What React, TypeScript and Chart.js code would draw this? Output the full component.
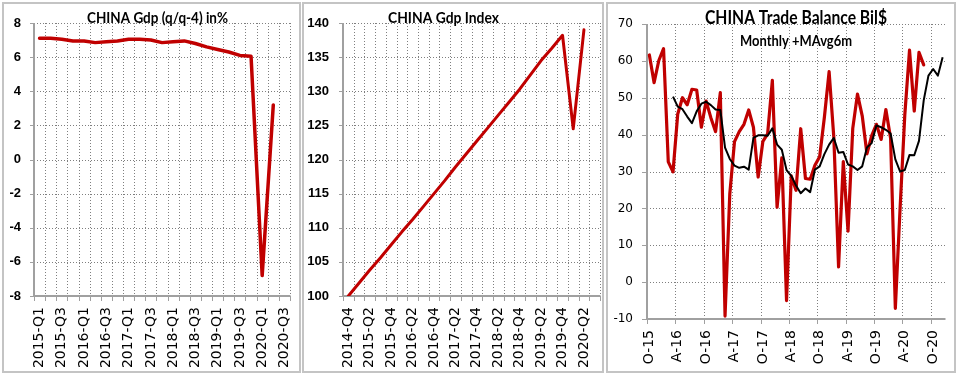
import React, { useLayoutEffect, useRef, useState } from "react";
import { Chart, registerables } from "chart.js";

Chart.register(...registerables);

// ---------------- DATA ----------------
const GDP_QUARTERS = [
  "2015-Q1", "2015-Q2", "2015-Q3", "2015-Q4",
  "2016-Q1", "2016-Q2", "2016-Q3", "2016-Q4",
  "2017-Q1", "2017-Q2", "2017-Q3", "2017-Q4",
  "2018-Q1", "2018-Q2", "2018-Q3", "2018-Q4",
  "2019-Q1", "2019-Q2", "2019-Q3", "2019-Q4",
  "2020-Q1", "2020-Q2", "2020-Q3",
];
const GDP_YOY = [
  7.1, 7.1, 7.05, 6.95, 6.95, 6.85, 6.9, 6.95, 7.05, 7.05, 7.0, 6.85,
  6.9, 6.95, 6.8, 6.6, 6.45, 6.3, 6.1, 6.05, -6.8, 3.2, null,
];

const INDEX_QUARTERS = [
  "2014-Q4",
  "2015-Q1", "2015-Q2", "2015-Q3", "2015-Q4",
  "2016-Q1", "2016-Q2", "2016-Q3", "2016-Q4",
  "2017-Q1", "2017-Q2", "2017-Q3", "2017-Q4",
  "2018-Q1", "2018-Q2", "2018-Q3", "2018-Q4",
  "2019-Q1", "2019-Q2", "2019-Q3", "2019-Q4",
  "2020-Q1", "2020-Q2", "2020-Q3",
];
const GDP_INDEX = [
  100, 101.9, 103.8, 105.6, 107.5, 109.4, 111.2, 113.1, 115.0, 116.9,
  118.9, 120.8, 122.7, 124.6, 126.5, 128.4, 130.3, 132.4, 134.5, 136.3,
  138.2, 124.5, 139.0, null,
];

const MONTHS = [
  "Oct-15", "Nov-15", "Dec-15",
  "Jan-16", "Feb-16", "Mar-16", "Apr-16", "May-16", "Jun-16", "Jul-16", "Aug-16", "Sep-16", "Oct-16", "Nov-16", "Dec-16",
  "Jan-17", "Feb-17", "Mar-17", "Apr-17", "May-17", "Jun-17", "Jul-17", "Aug-17", "Sep-17", "Oct-17", "Nov-17", "Dec-17",
  "Jan-18", "Feb-18", "Mar-18", "Apr-18", "May-18", "Jun-18", "Jul-18", "Aug-18", "Sep-18", "Oct-18", "Nov-18", "Dec-18",
  "Jan-19", "Feb-19", "Mar-19", "Apr-19", "May-19", "Jun-19", "Jul-19", "Aug-19", "Sep-19", "Oct-19", "Nov-19", "Dec-19",
  "Jan-20", "Feb-20", "Mar-20", "Apr-20", "May-20", "Jun-20", "Jul-20", "Aug-20", "Sep-20", "Oct-20", "Nov-20", "Dec-20",
];
const TRADE_BALANCE = [
  61.6, 54.1, 60.1,
  63.3, 32.6, 29.9, 45.6, 50.0, 48.1, 52.3, 52.1, 42.0, 49.1, 44.6, 40.8,
  51.4, -9.2, 23.9, 38.1, 40.8, 42.8, 46.7, 42.0, 28.5, 38.2, 40.2, 54.7,
  20.3, 33.7, -5.0, 28.8, 24.9, 41.6, 28.1, 27.9, 31.7, 34.0, 44.7, 57.1,
  39.2, 4.1, 32.7, 13.8, 41.7, 51.0, 45.1, 34.8, 39.7, 42.8, 38.7, 46.8,
  39.0, -7.1, 19.9, 45.3, 62.9, 46.4, 62.3, 58.9, null, null, null, null,
];
const TRADE_MA6 = [
  null, null, null,
  null, null, 50.3, 47.6, 46.9, 44.9, 43.1, 46.3, 48.4, 48.9, 48.0, 46.8,
  46.7, 36.5, 33.4, 31.6, 31.0, 31.3, 30.5, 39.1, 39.8, 39.8, 39.7, 41.7,
  37.3, 35.9, 30.4, 28.8, 26.2, 24.1, 25.4, 24.4, 30.5, 31.4, 34.7, 37.3,
  39.1, 35.1, 35.3, 31.9, 31.4, 30.4, 31.4, 36.5, 37.7, 42.5, 42.0, 41.3,
  40.3, 33.3, 30.0, 30.4, 34.5, 34.4, 38.3, 49.3, 56.0, 57.8, 56.0, 61.0,
];

const TITLE_1 = "CHINA Gdp (q/q-4) in%";
const TITLE_2 = "CHINA Gdp Index";
const TITLE_3 = "CHINA Trade Balance Bil$";
const SUBTITLE_3 = "Monthly +MAvg6m";

// ---------------- STYLE ----------------
const RED = "#c00000";
const GRID = "#7f7f7f";
const AXIS = "#a0a0a0";
const TITLE_FONT = '"Lato", "Liberation Sans", sans-serif';

type Area = { left: number; top: number; right: number; bottom: number };
type Spec = {
  area: Area;
  labels: string[];
  datasets: any[];
  yMin: number;
  yMax: number;
  yStep: number;
  yFont: any;
  yPad: number;
  yTick: number;
  gridEvery: number;
  labelEvery: number;
  endLine: boolean;
  fmt: (s: string) => string;
  texts: any[];
};
type GridGeom = { L: number; R: number; T: number; B: number; xs: number[]; ys: number[] };

function computeGrid(chart: any, s: Spec): GridGeom {
  const ca = chart.chartArea;
  const x = chart.scales["x"];
  const y = chart.scales["y"];
  const ys: number[] = [];
  const yt = y.ticks;
  for (let i = 0; i < yt.length; i++) ys.push(Math.round(y.getPixelForValue(yt[i].value)) + 0.5);
  const n = s.labels.length;
  const p0 = x.getPixelForValue(0);
  const p1 = x.getPixelForValue(1);
  const half = (p1 - p0) / 2;
  const xs: number[] = [];
  for (let i = 0; i <= n; i++) {
    const show = i === n ? s.endLine : i % s.gridEvery === 0;
    if (show) xs.push(Math.round(p0 + (p1 - p0) * i - half) + 0.5);
  }
  return {
    L: Math.round(ca.left),
    R: Math.round(ca.right),
    T: Math.round(ca.top),
    B: Math.round(ca.bottom),
    xs,
    ys,
  };
}

const textPlugin = {
  id: "panelText",
  afterDraw(chart: any, _args: any, opts: any) {
    const ctx = chart.ctx;
    const items = (opts && opts.items) || [];
    for (let i = 0; i < items.length; i++) {
      const t = items[i];
      ctx.save();
      ctx.font = t.font;
      ctx.fillStyle = "#000";
      ctx.textAlign = "center";
      ctx.textBaseline = "alphabetic";
      ctx.fillText(t.text, t.x, t.y, t.maxWidth);
      ctx.restore();
    }
  },
};

function makeConfig(s: Spec, w: number, h: number) {
  return {
    type: "line",
    data: { labels: s.labels, datasets: s.datasets },
    plugins: [textPlugin],
    options: {
      animation: false,
      responsive: false,
      maintainAspectRatio: false,
      devicePixelRatio: 1,
      events: [],
      layout: {
        padding: { left: 0, top: s.area.top, right: w - s.area.right, bottom: 0 },
      },
      plugins: {
        legend: { display: false },
        tooltip: { enabled: false },
        title: { display: false },
        panelText: { items: s.texts },
      },
      elements: { point: { radius: 0 } },
      scales: {
        x: {
          type: "category",
          offset: true,
          grid: { display: false, drawTicks: true, tickLength: 5, offset: true },
          border: { display: false },
          ticks: {
            autoSkip: false,
            minRotation: 90,
            maxRotation: 90,
            padding: 6,
            color: "#000",
            font: { family: '"DejaVu Sans", sans-serif', size: 14 },
            callback: function (this: any, value: any, index: number) {
              return index % s.labelEvery === 0 ? s.fmt(this.getLabelForValue(value)) : "";
            },
          },
          afterFit: (sc: any) => {
            sc.height = h - s.area.bottom;
            sc.paddingLeft = 0;
            sc.paddingRight = 0;
          },
        },
        y: {
          min: s.yMin,
          max: s.yMax,
          grid: { display: false, drawTicks: true, tickLength: s.yTick },
          border: { display: false },
          ticks: {
            stepSize: s.yStep,
            padding: s.yPad,
            color: "#000",
            font: s.yFont,
          },
          afterFit: (sc: any) => {
            sc.width = s.area.left;
            sc.paddingTop = 0;
            sc.paddingBottom = 0;
          },
        },
      },
    },
  } as any;
}

function Panel(props: { left: number; top: number; width: number; height: number; spec: Spec }) {
  const ref = useRef<HTMLCanvasElement>(null);
  const [grid, setGrid] = useState<GridGeom | null>(null);
  const [err, setErr] = useState<string>("");
  const { left, top, width, height, spec } = props;
  useLayoutEffect(() => {
    const canvas = ref.current as HTMLCanvasElement;
    let chart: any = null;
    let msg = "";
    try {
      chart = new Chart(canvas, makeConfig(spec, width, height));
    } catch (e: any) {
      msg += "chart: " + String(e && e.message ? e.message : e) + " ";
      chart = Chart.getChart(canvas) || null;
    }
    if (chart) {
      try {
        const g = computeGrid(chart, spec);
        const bad = [g.L, g.R, g.T, g.B].concat(g.xs, g.ys).some((v) => !isFinite(v));
        if (bad) msg += "NaN in grid " + JSON.stringify(g).slice(0, 80);
        setGrid(g);
      } catch (e: any) {
        msg += "grid: " + String(e && e.message ? e.message : e);
      }
    } else {
      msg += "no chart";
    }
    setErr(msg);
    return () => {
      if (chart) chart.destroy();
    };
  }, []);
  const fill = { position: "absolute" as const, left: 0, top: 0, width, height };
  const lines: any[] = [];
  if (grid) {
    grid.ys.forEach((py, i) =>
      lines.push(<line key={"h" + i} x1={grid.L} y1={py} x2={grid.R} y2={py} stroke={GRID} strokeWidth={1} strokeDasharray="1 2" />)
    );
    grid.xs.forEach((px, i) =>
      lines.push(<line key={"v" + i} x1={px} y1={grid.T} x2={px} y2={grid.B} stroke={GRID} strokeWidth={1} strokeDasharray="1 2" />)
    );
    grid.xs.forEach((px, i) =>
      lines.push(<line key={"xt" + i} x1={px} y1={grid.B} x2={px} y2={grid.B + 5} stroke={AXIS} strokeWidth={1} />)
    );
    grid.ys.forEach((py, i) =>
      lines.push(<line key={"yt" + i} x1={grid.L - spec.yTick} y1={py} x2={grid.L} y2={py} stroke={AXIS} strokeWidth={1} />)
    );
    lines.push(<line key="ay" x1={grid.L} y1={grid.T} x2={grid.L} y2={grid.B + 1} stroke={AXIS} strokeWidth={2} />);
    lines.push(<line key="ax" x1={grid.L - 1} y1={grid.B} x2={grid.R + 0.5} y2={grid.B} stroke={AXIS} strokeWidth={2} />);
  }
  return (
    <div style={{ position: "absolute", left, top, width, height }}>
      <svg width={width} height={height} style={fill}>
        {lines}
      </svg>
      <canvas ref={ref} width={width} height={height} style={fill} />
      <div style={{ ...fill, boxSizing: "border-box", border: "2px solid #c4c4c4", pointerEvents: "none" }} />
      {err ? (
        <div style={{ position: "absolute", left: 40, top: 150, width: width - 60, color: "#f0f", font: "10px sans-serif" }}>
          {err}
        </div>
      ) : null}
    </div>
  );
}

const SPEC_1: Spec = {
  area: { left: 32, top: 21, right: 288, bottom: 294 },
  labels: GDP_QUARTERS,
  datasets: [
    {
      data: GDP_YOY,
      borderColor: RED,
      borderWidth: 3.5,
      pointRadius: 0,
      tension: 0,
      borderJoinStyle: "round",
      borderCapStyle: "round",
    },
  ],
  yMin: -8,
  yMax: 8,
  yStep: 2,
  yFont: { family: '"Liberation Sans", sans-serif', size: 13, weight: "bold" },
  yPad: 9,
  yTick: 4,
  gridEvery: 1,
  labelEvery: 2,
  endLine: true,
  fmt: (s) => s,
  texts: [{ text: TITLE_1, x: 155.5, y: 20.7, maxWidth: 141, font: `bold 16px ${TITLE_FONT}` }],
};

const SPEC_2: Spec = {
  area: { left: 41, top: 21, right: 298, bottom: 294 },
  labels: INDEX_QUARTERS,
  datasets: [
    {
      data: GDP_INDEX,
      borderColor: RED,
      borderWidth: 3,
      pointRadius: 0,
      tension: 0,
      borderJoinStyle: "round",
      borderCapStyle: "round",
    },
  ],
  yMin: 100,
  yMax: 140,
  yStep: 5,
  yFont: { family: '"Liberation Sans", sans-serif', size: 13, weight: "bold" },
  yPad: 10,
  yTick: 4,
  gridEvery: 1,
  labelEvery: 2,
  endLine: true,
  fmt: (s) => s,
  texts: [{ text: TITLE_2, x: 141.5, y: 20.7, maxWidth: 111, font: `bold 16px ${TITLE_FONT}` }],
};

const SPEC_3: Spec = {
  area: { left: 41, top: 22, right: 339, bottom: 317 },
  labels: MONTHS,
  datasets: [
    {
      data: TRADE_MA6,
      borderColor: "#000000",
      borderWidth: 2,
      pointRadius: 0,
      tension: 0,
      order: 0,
      borderJoinStyle: "round",
    },
    {
      data: TRADE_BALANCE,
      borderColor: RED,
      borderWidth: 3.2,
      pointRadius: 0,
      tension: 0,
      order: 1,
      borderJoinStyle: "round",
      borderCapStyle: "round",
    },
  ],
  yMin: -10,
  yMax: 70,
  yStep: 10,
  yFont: { family: '"DejaVu Sans", sans-serif', size: 12 },
  yPad: 9,
  yTick: 5,
  gridEvery: 6,
  labelEvery: 6,
  endLine: false,
  fmt: (s) => s.charAt(0) + s.slice(3),
  texts: [
    { text: TITLE_3, x: 190, y: 22, maxWidth: 182, font: `bold 19px ${TITLE_FONT}` },
    { text: SUBTITLE_3, x: 190, y: 44, maxWidth: 112, font: `bold 15px ${TITLE_FONT}` },
  ],
};

export default function App() {
  return (
    <div
      style={{
        position: "fixed",
        left: 0,
        top: 0,
        width: 960,
        height: 379,
        background: "#ffffff",
        overflow: "hidden",
      }}
    >
      <Panel left={2} top={2} width={299} height={371} spec={SPEC_1} />
      <Panel left={302} top={2} width={302} height={371} spec={SPEC_2} />
      <Panel left={606} top={2} width={350} height={371} spec={SPEC_3} />
    </div>
  );
}
